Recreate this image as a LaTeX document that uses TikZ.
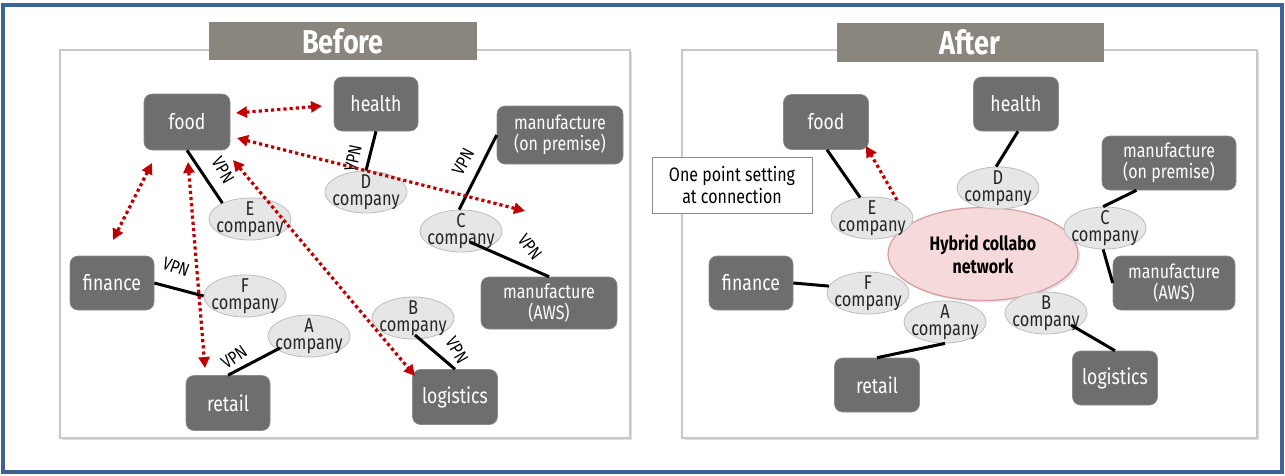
\documentclass[tikz,border=0pt]{standalone}
\usepackage{fontspec}
\setmainfont{Fira Sans}[FakeStretch=0.82]
\usetikzlibrary{arrows.meta,shadows,calc,shapes.geometric}
\definecolor{frameblue}{HTML}{3D6294}
\definecolor{boxgray}{HTML}{6E6E6E}
\definecolor{ellgray}{HTML}{E6E6E6}
\definecolor{ellline}{HTML}{BDBDBD}
\definecolor{titlegray}{HTML}{8A867E}
\definecolor{panelline}{HTML}{C8C8C8}
\definecolor{darkred}{HTML}{C00000}
\definecolor{pinkfill}{HTML}{F6D9DB}
\definecolor{pinkline}{HTML}{D69CA2}
\tikzset{
  panel/.style={draw=panelline, line width=1.5pt, fill=white, drop shadow={opacity=0.25, shadow xshift=2pt, shadow yshift=-2pt}},
  titlebox/.style={fill=titlegray, text=white, font=\fontsize{33}{35}\selectfont\bfseries, inner sep=0pt},
  grbox/.style={rounded corners=8pt, fill=boxgray, text=white, align=center, font=\fontsize{21.5}{23}\selectfont, inner sep=0pt, draw=boxgray!80!white, line width=0.6pt},
  grboxs/.style={grbox, font=\fontsize{19.5}{21}\selectfont},
  comp/.style={ellipse, draw=ellline, fill=ellgray, line width=0.8pt, inner sep=0pt, minimum width=82pt, minimum height=42pt},
  ctext/.style={align=center, font=\fontsize{20}{17}\selectfont, inner sep=0pt, text=black!85},
  vpnline/.style={line width=3pt, black},
  vpn/.style={font=\fontsize{18}{18}\selectfont, inner sep=0pt, text=black},
  redarr/.style={darkred, line width=3.2pt, dash pattern=on 3.2pt off 3pt, {Triangle[length=11pt,width=11pt]}-{Triangle[length=11pt,width=11pt]}},
  redarrone/.style={darkred, line width=3.2pt, dash pattern=on 3.2pt off 3pt, -{Triangle[length=11pt,width=11pt]}},
}
\begin{document}
\begin{tikzpicture}[x=1pt,y=-1pt]
\useasboundingbox (0,0) rectangle (1285,475);
\fill[white] (0,0) rectangle (1285,475);
\draw[frameblue, line width=3.5pt] (3,5) rectangle (1282,472);

% panels
\path[panel] (60,50) rectangle (630,438);
\path[panel] (682,50) rectangle (1257,438);
\node[titlebox, minimum width=268pt, minimum height=38pt] (tb) at (343,41) {Before};
\node[titlebox, minimum width=267pt, minimum height=39pt] (ta) at (970,42) {After};

% ---------------- Before ----------------
\node[grbox, minimum width=86pt, minimum height=56pt] (food) at (187,122) {food};
\node[grbox, minimum width=84pt, minimum height=54pt] (health) at (376,104) {health};
\node[grboxs, minimum width=126pt, minimum height=58pt] (manuL) at (560,135) {manufacture\\(on premise)};
\node[grbox, minimum width=84pt, minimum height=54pt] (finance) at (112,283) {finance};
\node[grboxs, minimum width=136pt, minimum height=52pt] (awsL) at (549,303) {manufacture\\(AWS)};
\node[grbox, minimum width=84pt, minimum height=55pt] (retail) at (228,403) {retail};
\node[grbox, minimum width=85pt, minimum height=55pt] (logi) at (455,397) {logistics};

\node[comp, label={[ctext]center:{E\\company}}] (E) at (250,219) {};
\node[comp, label={[ctext]center:{D\\company}}] (D) at (366,192) {};
\node[comp, label={[ctext]center:{C\\company}}] (C) at (461,231) {};
\node[comp, label={[ctext]center:{F\\company}}] (F) at (245,296) {};
\node[comp, label={[ctext]center:{A\\company}}] (A) at (309,336) {};
\node[comp, label={[ctext]center:{B\\company}}] (B) at (413,318) {};

\draw[vpnline] (food.south) -- (E.150);
\draw[vpnline] (health.south) -- (D.90);
\draw[vpnline] (manuL.west) -- (C.95);
\draw[vpnline] ($(C)+(9,11)$) -- (awsL.north);
\draw[vpnline] (finance.east) -- (F.west);
\draw[vpnline] ($(A)+(-29,12)$) -- (retail.north);
\draw[vpnline] ($(B)+(2,17)$) -- (logi.north);

\node[vpn, rotate=-60] (v1) at (223,170) {VPN};
\node[vpn, rotate=78] (v2) at (353,158) {VPN};
\node[vpn, rotate=62] (v3) at (463,162) {VPN};
\node[vpn, rotate=-52] (v4) at (530,247) {VPN};
\node[vpn, rotate=-20] (v5) at (176,267) {VPN};
\node[vpn, rotate=35] (v6) at (234,357) {VPN};
\node[vpn, rotate=-60] (v7) at (457,350) {VPN};

\coordinate (r1a) at (236,113); \coordinate (r1b) at (322,106);
\coordinate (r2a) at (237,138); \coordinate (r2b) at (525,211);
\coordinate (r3a) at (152,163); \coordinate (r3b) at (113,240);
\coordinate (r4a) at (188,162); \coordinate (r4b) at (205,368);
\coordinate (r5a) at (233,160); \coordinate (r5b) at (415,376);
\draw[redarr] (r1a) -- (r1b);
\draw[redarr] (r2a) -- (r2b);
\draw[redarr] (r3a) -- (r3b);
\draw[redarr] (r4a) -- (r4b);
\draw[redarr] (r5a) -- (r5b);

% ---------------- After ----------------
\node[grbox, minimum width=85pt, minimum height=55pt] (foodR) at (826,122) {food};
\node[grbox, minimum width=85pt, minimum height=54pt] (healthR) at (1016,104) {health};
\node[grboxs, minimum width=134pt, minimum height=54pt] (manuR) at (1169,163) {manufacture\\(on premise)};
\node[grbox, minimum width=84pt, minimum height=54pt] (financeR) at (751,283) {finance};
\node[grboxs, minimum width=122pt, minimum height=54pt] (awsR) at (1174,283) {manufacture\\(AWS)};
\node[grbox, minimum width=85pt, minimum height=54pt] (retailR) at (877,385) {retail};
\node[grbox, minimum width=85pt, minimum height=54pt] (logiR) at (1115,378) {logistics};

\node[draw=black!45, fill=white, line width=0.8pt, minimum width=160pt, minimum height=56pt, align=center, font=\fontsize{19.5}{22}\selectfont, inner sep=0pt] (call) at (732,185) {One point setting\\at connection};

\node[ellipse, draw=pinkline, fill=pinkfill, line width=1.2pt, minimum width=190pt, minimum height=93pt, align=center, font=\fontsize{19.5}{23}\selectfont\bfseries, inner sep=0pt, drop shadow={opacity=0.2, shadow xshift=2pt, shadow yshift=-2pt}] (hyb) at (983,254) {Hybrid collabo\\network};

\node[comp, label={[ctext]center:{E\\company}}] (ER) at (872,218) {};
\node[comp, label={[ctext]center:{D\\company}}] (DR) at (998,188) {};
\node[comp, label={[ctext]center:{C\\company}}] (CR) at (1105,228) {};
\node[comp, label={[ctext]center:{F\\company}}] (FR) at (868,293) {};
\node[comp, label={[ctext]center:{A\\company}}] (AR) at (945,322) {};
\node[comp, label={[ctext]center:{B\\company}}] (BR) at (1046,313) {};

\draw[vpnline] ($(foodR.south)+(1,0)$) -- (ER.120);
\draw[vpnline] ($(healthR.south)+(2,0)$) -- (DR.95);
\draw[vpnline] (manuR.-140) -- (CR.95);
\draw[vpnline] (CR.-95) -- (awsR.west);
\draw[vpnline] (financeR.east) -- (FR.170);
\draw[vpnline] (AR.south) -- (retailR.north);
\draw[vpnline] ($(BR)+(25,12)$) -- (logiR.north);

\coordinate (rRa) at (897,200); \coordinate (rRb) at (866,146);
\draw[redarrone] (rRa) -- (rRb);
\end{tikzpicture}
\end{document}
